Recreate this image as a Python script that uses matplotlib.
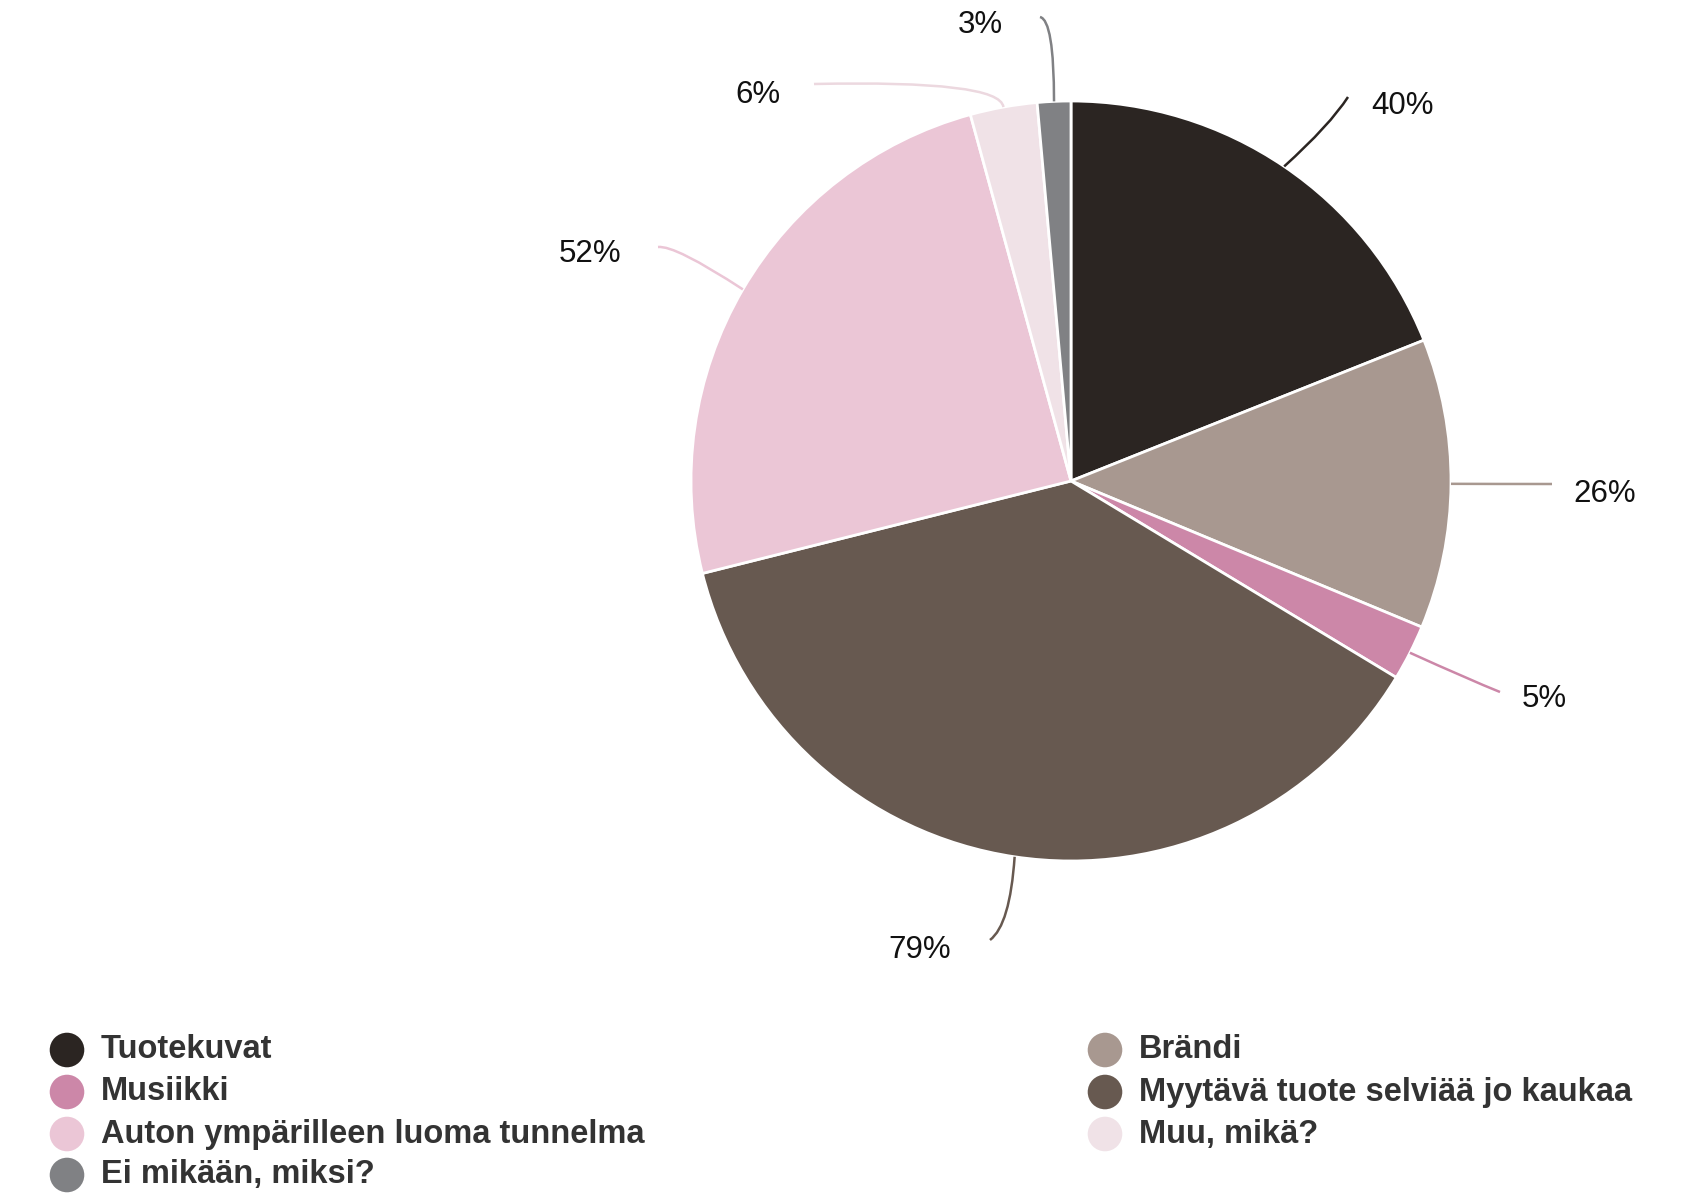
import matplotlib
matplotlib.use("Agg")
import matplotlib.pyplot as plt
from matplotlib.path import Path
from matplotlib.patches import PathPatch
import numpy as np

plt.rcParams['font.family'] = ['Liberation Sans', 'DejaVu Sans']

# data
categories = ["Tuotekuvat", "Brändi", "Musiikki", "Myytävä tuote selviää jo kaukaa",
              "Auton ympärilleen luoma tunnelma", "Muu, mikä?", "Ei mikään, miksi?"]
values = [40, 26, 5, 79, 52, 6, 3]
labels = ["40%", "26%", "5%", "79%", "52%", "6%", "3%"]
colors = ["#2b2522", "#a89890", "#cc87a8", "#675950", "#ebc6d6", "#f0e2e7", "#808184"]

W, H = 1691, 1197
fig = plt.figure(figsize=(W / 100, H / 100), dpi=100)
ax = fig.add_axes([0, 0, 1, 1])

cx, cy, R = 1071, H - 481, 380
wedges, _ = ax.pie(values, colors=colors, startangle=90, counterclock=False,
                   center=(cx, cy), radius=R, frame=True,
                   wedgeprops=dict(edgecolor='white', linewidth=2))
ax.set_xlim(0, W)
ax.set_ylim(0, H)
ax.axis('off')

# label layout: (control point, end of leader, text position) in pixel coords (y from top)
layout = [
    ((1330, 125), (1348, 97), (1402, 106)),
    ((1500, 484), (1552, 484), (1605, 494)),
    ((1470, 680), (1500, 692), (1544, 699)),
    ((1010, 925), (990, 940), (920, 950)),
    ((675, 245), (658, 247), (590, 254)),
    ((1000, 80), (814, 84), (758, 95)),
    ((1054, 20), (1040, 17), (980, 25)),
]

for w, col, lab, (ctrl, end, tpos) in zip(wedges, colors, labels, layout):
    mid = np.deg2rad((w.theta1 + w.theta2) / 2)
    ax0 = cx + R * np.cos(mid)
    ay0 = cy + R * np.sin(mid)
    path = Path([(ax0, ay0), (ctrl[0], H - ctrl[1]), (end[0], H - end[1])],
                [Path.MOVETO, Path.CURVE3, Path.CURVE3])
    lc = "#ecd8df" if col == "#f0e2e7" else col
    ax.add_patch(PathPatch(path, fill=False, edgecolor=lc, linewidth=1.8))
    ax.text(tpos[0], H - tpos[1], lab, fontsize=22.5, ha='center', va='center', color='#111111')

# legend, two columns, row-major
col_x = [67, 1105]
row_y = [1050, 1092, 1134, 1175]
for i, (cat, col) in enumerate(zip(categories, colors)):
    r, c = divmod(i, 2)
    mx, my = col_x[c], H - row_y[r]
    ax.scatter([mx], [my], s=620, color=col, edgecolors='none', zorder=3)
    ax.text(mx + 34, my, cat, fontsize=23.5, ha='left', va='center',
            color='#333333', fontweight='bold')

fig.savefig("out.png", dpi=100)
